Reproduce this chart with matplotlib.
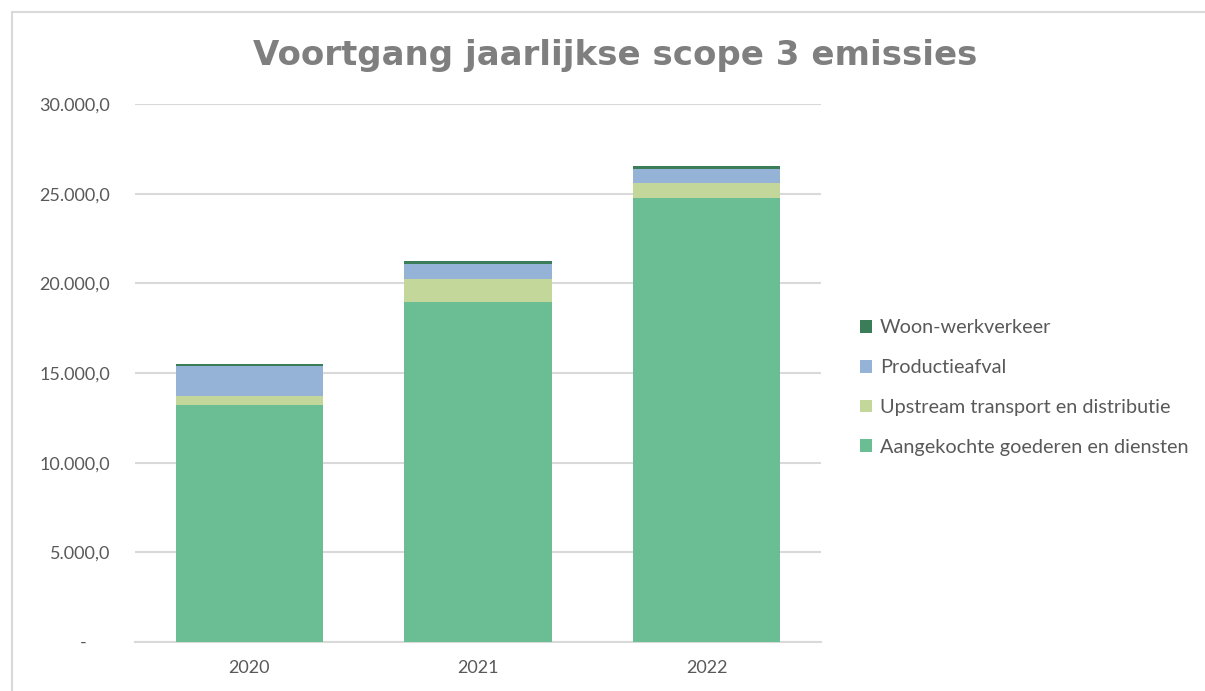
import matplotlib
matplotlib.use("Agg")
import matplotlib.pyplot as plt
import matplotlib.patches as mpatches
import numpy as np

# data (tCO2e)
years = ['2020', '2021', '2022']
aangekochte = [13220, 18980, 24780]
upstream = [500, 1260, 830]
productieafval = [1670, 860, 780]
woon_werk = [110, 150, 150]

series = [
    ('Aangekochte goederen en diensten', aangekochte, '#6BBD94'),
    ('Upstream transport en distributie', upstream, '#C4D79B'),
    ('Productieafval', productieafval, '#95B3D7'),
    ('Woon-werkverkeer', woon_werk, '#3A7D58'),
]

plt.rcParams['font.family'] = ['Lato', 'DejaVu Sans']

fig = plt.figure(figsize=(12.05, 6.91), dpi=100)
ax = fig.add_axes([135 / 1205, 1 - 642 / 691, (821 - 135) / 1205, (642 - 104) / 691])

# chart border
fig.patches.append(mpatches.Rectangle((12 / 1205, -0.1), 1.2, 1 - 12 / 691 + 0.1,
                                      transform=fig.transFigure, fill=False,
                                      edgecolor='#d9d9d9', linewidth=1.5))

x = np.arange(len(years))
bottom = np.zeros(len(years))
handles = []
for name, vals, col in series:
    b = ax.bar(x, vals, width=0.643, bottom=bottom, color=col, label=name, zorder=3)
    handles.append(b)
    bottom += np.array(vals)

def fmt(t):
    if t == 0:
        return '-     '
    return f'{t:,.1f}'.replace(',', 'X').replace('.', ',').replace('X', '.')

ax.set_xlim(-0.5, 2.5)
ax.set_ylim(0, 30000)
ticks = np.arange(0, 30001, 5000)
ax.set_yticks(ticks)
ax.set_yticklabels([fmt(t) for t in ticks])
ax.set_xticks(x)
ax.set_xticklabels(years)
ax.tick_params(axis='both', length=0, labelsize=13, colors='#595959')
ax.tick_params(axis='y', pad=18)
ax.tick_params(axis='x', pad=13)

ax.grid(axis='y', color='#d9d9d9', linewidth=1.5, zorder=0)
for s in ['top', 'right', 'left']:
    ax.spines[s].set_visible(False)
ax.spines['bottom'].set_color('#d9d9d9')
ax.spines['bottom'].set_linewidth(1.5)

fig.text(615 / 1205, 1 - 55 / 691, 'Voortgang jaarlijkse scope 3 emissies',
         ha='center', va='center', fontsize=24.5, fontweight='bold', color='#7f7f7f',
         family=['DejaVu Sans'])

leg = ax.legend(handles[::-1], [s[0] for s in series][::-1],
                loc='center left', bbox_to_anchor=(1.045, 0.473), frameon=False,
                fontsize=14.3, handlelength=0.62, handleheight=0.62, handletextpad=0.4,
                labelspacing=1.15, borderaxespad=0)
for t in leg.get_texts():
    t.set_color('#595959')

fig.savefig('out.png', dpi=100)
